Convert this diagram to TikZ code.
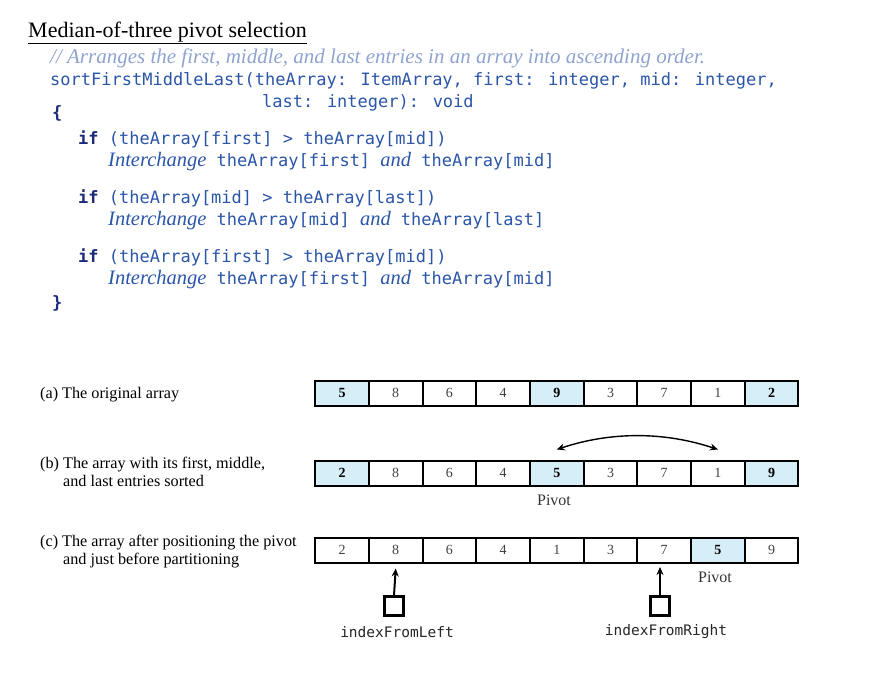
\documentclass[tikz,border=0pt]{standalone}
\usepackage{fontspec}
\setmainfont{Liberation Serif}
\newfontfamily\codefont{DejaVu Sans Mono}
\usetikzlibrary{arrows.meta}
\definecolor{codeblue}{HTML}{2A55A8}
\definecolor{navy}{HTML}{1C2A7A}
\definecolor{cmt}{HTML}{8FA3D0}
\definecolor{cellblue}{HTML}{D6EEF8}
\begin{document}
\begin{tikzpicture}[x=1pt,y=-1pt,
  code/.style={anchor=base west,inner sep=0,font=\codefont\fontsize{17}{18}\selectfont,text=codeblue},
  lab/.style={anchor=base west,inner sep=0,font=\fontsize{16.2}{17}\selectfont},
  cellbox/.style={draw,line width=2pt,minimum width=53.7pt,minimum height=25pt,inner sep=0,font=\fontsize{14}{15}\selectfont,text=black!75},
  hi/.style={fill=cellblue,font=\bfseries\fontsize{14}{15}\selectfont,text=black},
  arr/.style={-{Stealth[length=8pt,width=7pt]},line width=2pt}]
\useasboundingbox (0,0) rectangle (871,688);
\node[anchor=base west,inner sep=0,font=\fontsize{22}{24}\selectfont] (title) at (28,37) {\underline{Median-of-three pivot selection}};
\node[anchor=base west,inner sep=0,font=\itshape\fontsize{21}{22}\selectfont,text=cmt] (cm) at (50,63) {// Arranges the first, middle, and last entries in an array into ascending order.};
\node[code] (s1) at (50,85) {sortFirstMiddleLast(theArray: ItemArray, first: integer, mid: integer,};
\node[code] (s2) at (262,107) {last: integer): void};
\node[code,text=navy] (ob) at (52,118) {\bfseries\{};
\foreach \y/\a/\b/\c/\d in {144/first/mid/first/mid,203/mid/last/mid/last,262/first/mid/first/mid}{
  \node[code] at (78,\y) {\textcolor{navy}{\bfseries if} (theArray[\a] > theArray[\b])};
  \node[code] at (108,\y+22) {{\rmfamily\itshape\fontsize{20.5}{22}\selectfont Interchange} theArray[\c] {\rmfamily\itshape\fontsize{20.5}{22}\selectfont and} theArray[\d]};
}
\node[code,text=navy] (cb) at (52,308) {\bfseries\}};
\node[lab] (la) at (40,398) {(a) The original array};
\node[lab] (lb1) at (40,468) {(b) The array with its first, middle,};
\node[lab] (lb2) at (63,486) {and last entries sorted};
\node[lab] (lc1) at (40,546) {(c) The array after positioning the pivot};
\node[lab] (lc2) at (63,564) {and just before partitioning};
\foreach \v [count=\i from 0] in {5,8,6,4,9,3,7,1,2}{
  \ifnum\i=0 \def\s{hi}\else\ifnum\i=4 \def\s{hi}\else\ifnum\i=8 \def\s{hi}\else\def\s{}\fi\fi\fi
  \node[cellbox,\s] (a\i) at (342+\i*53.7,393) {\v};}
\foreach \v [count=\i from 0] in {2,8,6,4,5,3,7,1,9}{
  \ifnum\i=0 \def\s{hi}\else\ifnum\i=4 \def\s{hi}\else\ifnum\i=8 \def\s{hi}\else\def\s{}\fi\fi\fi
  \node[cellbox,\s] (b\i) at (342+\i*53.7,473) {\v};}
\foreach \v [count=\i from 0] in {2,8,6,4,1,3,7,5,9}{
  \ifnum\i=7 \def\s{hi}\else\def\s{}\fi
  \node[cellbox,\s] (c\i) at (342+\i*53.7,550) {\v};}
\draw[{Stealth[length=8pt,width=7pt]}-{Stealth[length=8pt,width=7pt]},line width=1.4pt] ([yshift=10pt]b4.north) .. controls ([yshift=28pt]b5.north) and ([yshift=28pt]b6.north) .. ([yshift=10pt]b7.north);
\node[font=\fontsize{16}{17}\selectfont,text=black!80] (p1) at (554,500) {Pivot};
\node[font=\fontsize{16}{17}\selectfont,text=black!80] (p2) at (715,577) {Pivot};
\node[draw,line width=2.2pt,minimum size=19pt,inner sep=0] (bl) at (394,606) {};
\node[draw,line width=2.2pt,minimum size=19pt,inner sep=0] (br) at (660,606) {};
\coordinate (tr) at (660,567);
\draw[arr] (bl.north) -- ([yshift=-5pt]c1.south);
\draw[arr] (br.north) -- (tr);
\node[font=\codefont\fontsize{14.5}{16}\selectfont,text=black!85] (il) at (397,632) {indexFromLeft};
\node[font=\codefont\fontsize{14.5}{16}\selectfont,text=black!85] (ir) at (666,632) {indexFromRight};
\end{tikzpicture}
\end{document}
